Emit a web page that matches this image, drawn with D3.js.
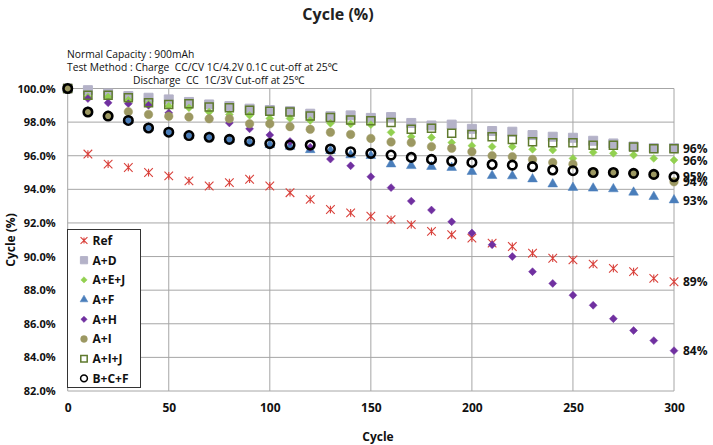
<!DOCTYPE html>
<html><head><meta charset="utf-8">
<script src="https://cdn.jsdelivr.net/npm/d3@7"></script>
<style>
body{margin:0;background:#fff;}
svg{display:block;font-family:"Open Sans","Noto Sans",sans-serif;}
.note{white-space:pre;}
</style></head>
<body>
<svg id="chart" width="713" height="445"></svg>
<script>
const cycles = [0,10,20,30,40,50,60,70,80,90,100,110,120,130,140,150,160,170,180,190,200,210,220,230,240,250,260,270,280,290,300];
const ref   = [100,96.1,95.5,95.3,95.0,94.8,94.5,94.2,94.4,94.6,94.2,93.8,93.4,92.8,92.6,92.4,92.2,91.9,91.5,91.3,91.1,90.8,90.6,90.2,89.9,89.8,89.55,89.3,89.1,88.7,88.5];
const aD    = [100,99.9,99.7,99.55,99.45,99.35,99.2,99.05,98.95,98.8,98.72,98.65,98.5,98.35,98.4,98.25,98.3,97.95,97.8,97.85,97.6,97.47,97.43,97.23,97.13,97.07,96.89,96.73,96.55,96.45,96.45];
const aEJ   = [100,99.5,99.5,99.3,99.1,98.95,98.85,98.6,98.45,98.4,98.22,98.22,98.1,97.93,97.89,97.85,97.39,97.13,97.09,96.78,96.6,96.54,96.54,96.38,96.34,95.84,96.2,96.14,96.04,95.84,95.74];
const aF    = [100,98.6,98.35,98.1,97.65,97.4,97.2,97.1,96.95,96.8,96.65,96.55,96.35,96.3,96.04,96.0,95.5,95.4,95.35,95.29,95.05,94.81,94.79,94.61,94.31,94.1,94.06,94.02,93.82,93.56,93.36];
const aH    = [100,99.4,99.15,99.1,99.0,98.55,98.3,98.2,97.95,97.6,97.23,96.85,96.5,95.8,95.4,94.75,94.1,93.3,92.77,92.07,91.4,90.7,90.0,89.1,88.4,87.7,87.1,86.3,85.6,85.0,84.4];
const aI    = [100,98.6,98.4,98.62,98.46,98.35,98.3,98.2,98.2,97.9,97.9,97.73,97.57,97.39,97.27,97.03,96.82,96.78,96.54,96.44,96.24,96.0,95.94,95.78,95.6,95.5,95.05,95.0,94.95,94.85,94.45];
const aIJ   = [100,99.6,99.6,99.45,99.15,99.05,99.1,98.9,98.85,98.7,98.65,98.6,98.36,98.28,98.12,98.08,97.97,97.57,97.63,97.33,97.27,97.13,96.97,96.83,96.77,96.77,96.63,96.63,96.52,96.42,96.42];
const bCF   = [100,98.6,98.36,98.1,97.65,97.4,97.2,97.1,96.97,96.85,96.72,96.64,96.64,96.4,96.24,96.14,96.04,95.9,95.78,95.68,95.6,95.48,95.44,95.35,95.15,95.11,95.0,95.0,94.95,94.89,94.75];

const seriesNames = ["Ref","A+D","A+E+J","A+F","A+H","A+I","A+I+J","B+C+F"];
const seriesValues = [ref,aD,aEJ,aF,aH,aI,aIJ,bCF];
const labelled = ["Ref","A+E+J","A+F","A+H","A+I","A+I+J","B+C+F"];
const yTicks = [82,84,86,88,90,92,94,96,98,100];
const xTicks = [0,50,100,150,200,250,300];
const titleText = "Cycle (%)";
const noteLines = ["Normal Capacity : 900mAh","Test Method : Charge  CC/CV 1C/4.2V 0.1C cut-off at 25\u2103","Discharge  CC  1C/3V Cut-off at 25\u2103"];

const style = {
  "Ref":   {shape:"star",    fill:"none",    stroke:"#d9413b", size:4.3, sw:1.1},
  "A+D":   {shape:"square",  fill:"#b4b2c8", stroke:"#b4b2c8", size:9,   sw:1},
  "A+E+J": {shape:"diamond", fill:"#92d050", stroke:"#92d050", size:8.5, sw:0.5},
  "A+F":   {shape:"triangle",fill:"#4a7ebb", stroke:"#4a7ebb", size:9.5, sw:0.5},
  "A+H":   {shape:"diamond", fill:"#7030a0", stroke:"#7030a0", size:8.5, sw:0.5},
  "A+I":   {shape:"circle",  fill:"#9c9862", stroke:"#9c9862", size:8.5, sw:0.5},
  "A+I+J": {shape:"square",  fill:"none",    stroke:"#5f7a2e", size:8,   sw:1.5},
  "B+C+F": {shape:"circle",  fill:"none",    stroke:"#000000", size:8.5, sw:2.6}
};

const svg = d3.select("#chart");
const x = d3.scaleLinear().domain([0,300]).range([67.7,674]);
const y = d3.scaleLinear().domain([82,100]).range([391,88.5]);

function drawMarker(g, st, cx, cy, scale){
  const s = st.size*(scale||1);
  if(st.shape==="star"){
    const r=s;
    g.append("path").attr("d",`M${cx-r},${cy-r}L${cx+r},${cy+r}M${cx-r},${cy+r}L${cx+r},${cy-r}M${cx},${cy-r*0.9}L${cx},${cy+r*0.9}`)
      .attr("stroke",st.stroke).attr("stroke-width",st.sw).attr("fill","none");
    return;
  }
  let sym, area;
  if(st.shape==="square"){sym=d3.symbolSquare; area=s*s;}
  else if(st.shape==="diamond"){sym=d3.symbolDiamond2 || d3.symbolDiamond; area=s*s*0.55;}
  else if(st.shape==="triangle"){sym=d3.symbolTriangle; area=s*s*0.45;}
  else {sym=d3.symbolCircle; area=Math.PI*(s/2)*(s/2);}
  g.append("path").attr("d",d3.symbol().type(sym).size(area)())
    .attr("transform",`translate(${cx},${cy})`)
    .attr("fill",st.fill).attr("stroke",st.stroke).attr("stroke-width",st.sw);
}

// title
svg.append("text").attr("x",338).attr("y",20).attr("text-anchor","middle")
  .attr("font-size",16).attr("font-weight","bold").attr("fill","#222").text(titleText);

// notes
svg.append("text").attr("class","note").attr("x",67).attr("y",58).attr("font-size",10.3).attr("fill","#111").text(noteLines[0]);
svg.append("text").attr("class","note").attr("x",67).attr("y",71).attr("font-size",10.3).attr("fill","#111").text(noteLines[1]);
svg.append("text").attr("class","note").attr("x",133).attr("y",84).attr("font-size",10.3).attr("fill","#111").text(noteLines[2]);

// grid
const grid = svg.append("g");
grid.selectAll(".hy").data(yTicks).join("line")
  .attr("x1",x(0)).attr("x2",x(300)).attr("y1",d=>y(d)).attr("y2",d=>y(d))
  .attr("stroke","#a6a6a6").attr("stroke-width",1);
grid.selectAll(".vx").data(xTicks).join("line")
  .attr("y1",y(82)).attr("y2",y(100)).attr("x1",d=>x(d)).attr("x2",d=>x(d))
  .attr("stroke","#a6a6a6").attr("stroke-width",1);

// axes
const yAxis = svg.append("g").attr("transform",`translate(${x(0)},0)`)
  .call(d3.axisLeft(y).tickValues(yTicks).tickFormat(d=>d.toFixed(1)+"%").tickSize(0).tickPadding(12));
yAxis.select(".domain").remove();
yAxis.selectAll("text").attr("font-size",11).attr("font-weight","bold").attr("fill","#111")
  .attr("font-family","'Open Sans','Noto Sans',sans-serif");

const xAxis = svg.append("g").attr("transform",`translate(0,${y(82)})`)
  .call(d3.axisBottom(x).tickValues(xTicks).tickFormat(d3.format("d")).tickSize(0).tickPadding(12));
xAxis.select(".domain").remove();
xAxis.selectAll("text").attr("font-size",12).attr("font-weight","bold").attr("fill","#111")
  .attr("font-family","'Open Sans','Noto Sans',sans-serif");

svg.append("text").attr("x",378).attr("y",441).attr("text-anchor","middle")
  .attr("font-size",12).attr("font-weight","bold").attr("fill","#111").text("Cycle");
svg.append("text").attr("transform","translate(15,240) rotate(-90)").attr("text-anchor","middle")
  .attr("font-size",12).attr("font-weight","bold").attr("fill","#111").text("Cycle (%)");

// points
const pts = svg.append("g");
seriesNames.forEach((name,i)=>{
  const st = style[name];
  const g = pts.append("g");
  seriesValues[i].forEach((v,j)=>drawMarker(g, st, x(cycles[j]), y(v)));
});

// end labels
const lab = svg.append("g");
seriesNames.forEach((name,i)=>{
  if(!labelled.includes(name)) return;
  const v = seriesValues[i][seriesValues[i].length-1];
  lab.append("text").attr("x",x(300)+9).attr("y",y(v)).attr("dy","0.38em")
    .attr("font-size",12).attr("font-weight","bold").attr("fill","#111")
    .text(Math.round(v)+"%");
});

// legend
const leg = svg.append("g").attr("transform","translate(67.5,229.5)");
leg.append("rect").attr("width",73).attr("height",158).attr("fill","#fff").attr("stroke","#333").attr("stroke-width",1);
seriesNames.forEach((name,i)=>{
  const cy = 11 + i*19.7;
  const st = Object.assign({}, style[name]);
  if(name==="B+C+F"){st.sw=1.5;}
  drawMarker(leg, st, 16.5, cy, 0.8);
  leg.append("text").attr("x",25).attr("y",cy).attr("dy","0.36em")
    .attr("font-size",12).attr("font-weight","bold").attr("fill","#111").text(name);
});
</script>
</body></html>
